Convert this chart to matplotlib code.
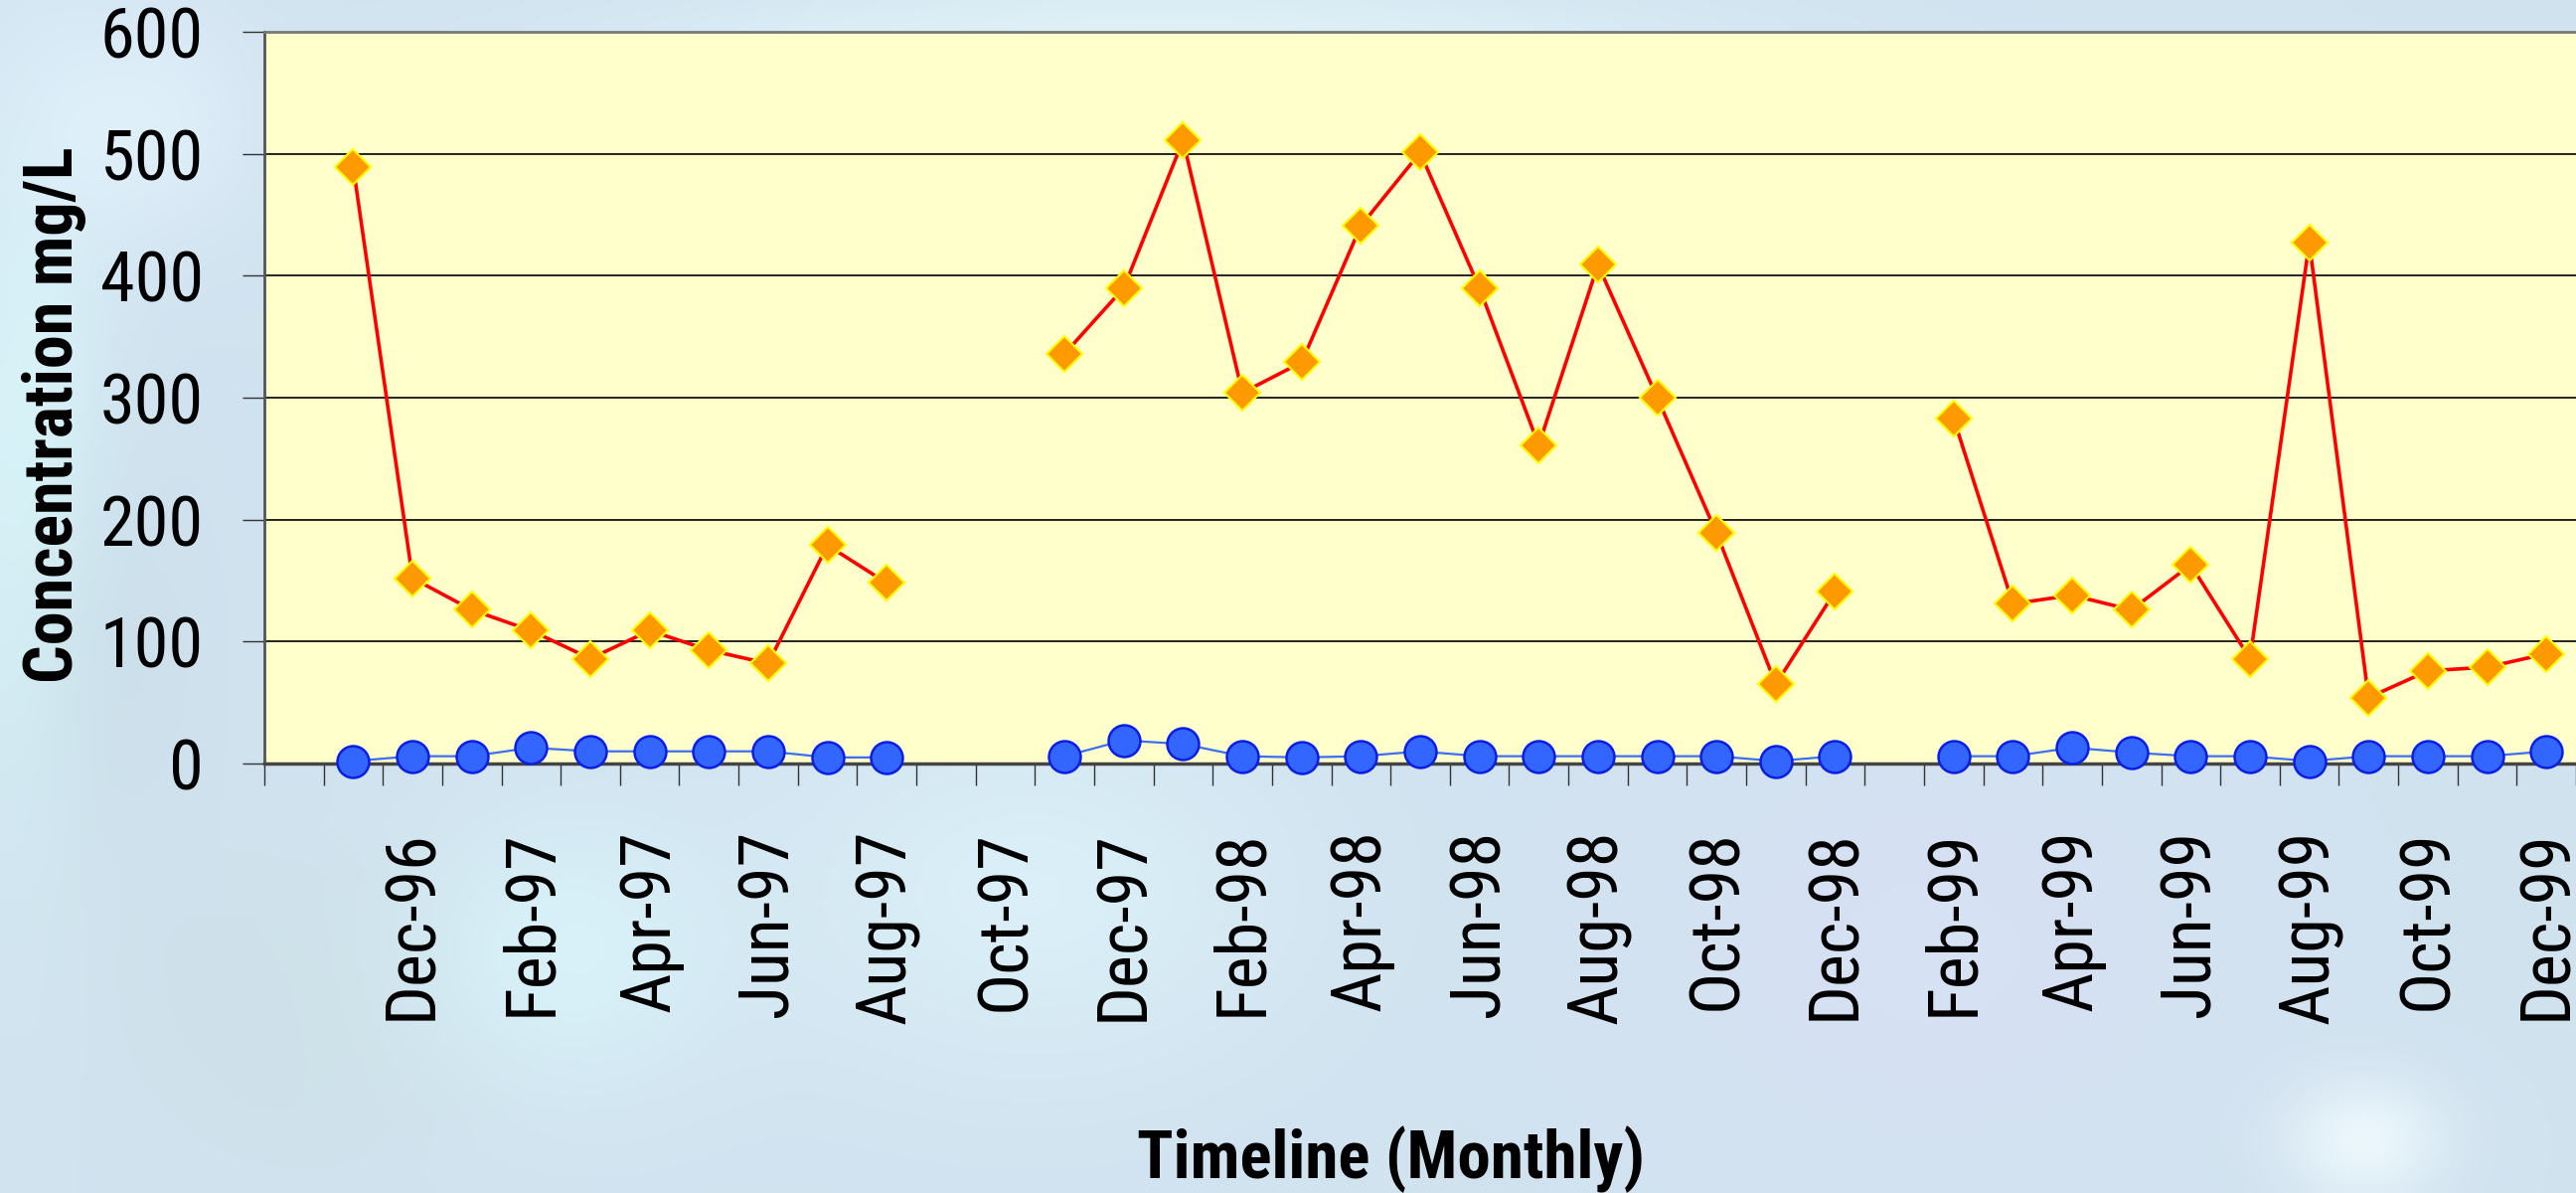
import numpy as np
import matplotlib
matplotlib.use("Agg")
import matplotlib.pyplot as plt
from matplotlib import font_manager
from matplotlib.ticker import FixedLocator, NullFormatter

# monthly categories Oct-96 .. Dec-99
months = ['Oct-96', 'Nov-96', 'Dec-96', 'Jan-97', 'Feb-97', 'Mar-97', 'Apr-97', 'May-97',
          'Jun-97', 'Jul-97', 'Aug-97', 'Sep-97', 'Oct-97', 'Nov-97', 'Dec-97', 'Jan-98',
          'Feb-98', 'Mar-98', 'Apr-98', 'May-98', 'Jun-98', 'Jul-98', 'Aug-98', 'Sep-98',
          'Oct-98', 'Nov-98', 'Dec-98', 'Jan-99', 'Feb-99', 'Mar-99', 'Apr-99', 'May-99',
          'Jun-99', 'Jul-99', 'Aug-99', 'Sep-99', 'Oct-99', 'Nov-99', 'Dec-99']
nan = np.nan
red_series = [nan, 489, 152, 126, 109, 86, 109, 93, 82, 179, 148, nan, nan, 336, 390, 511,
              304, 329, 441, 501, 390, 261, 409, 300, 189, 65, 141, nan, 283, 131, 138, 126,
              163, 86, 427, 54, 76, 79, 90]
blue_series = [nan, 2, 6, 6, 13, 10, 10, 10, 10, 5, 5, nan, nan, 6, 19, 16,
               6, 5, 6, 10, 6, 6, 6, 6, 6, 2, 6, nan, 6, 6, 13, 9,
               6, 6, 2, 6, 6, 6, 10]
yticks = [0, 100, 200, 300, 400, 500, 600]


# the original uses a narrow Arial; take a condensed face if one is installed
def pick_font():
    fl = font_manager.fontManager.ttflist
    names = {f.name for f in fl}
    for n in ['Liberation Sans Narrow', 'Arial Narrow', 'Roboto Condensed',
              'Open Sans Condensed', 'Noto Sans Condensed']:
        if n in names:
            return n, 'normal'
    for n in ['Noto Sans', 'DejaVu Sans', 'Open Sans', 'Roboto']:
        if any(f.name == n and str(f.stretch) in ('condensed', 'semi-condensed')
               for f in fl):
            return n, 'condensed'
    return 'Liberation Sans', 'normal'


fam, stretch = pick_font()
plt.rcParams['font.family'] = [fam, 'DejaVu Sans']
plt.rcParams['font.stretch'] = stretch

W, H = 2592, 1200
fig = plt.figure(figsize=(W / 100, H / 100), dpi=100)
renderer = fig.canvas.get_renderer()


def fit(s, target, weight='normal'):
    t = fig.text(0, 0, s, fontsize=100, fontweight=weight)
    w = t.get_window_extent(renderer).width
    t.remove()
    return 100 * target / w


ytick_fs = fit('600', 104)
xtick_fs = fit('Dec-96', 192)
ylab_fs = fit('Concentration mg/L', 540, 'bold')
xlab_fs = fit('Timeline (Monthly)', 511, 'bold')

# soft bluish backdrop
bg = fig.add_axes([0, 0, 1, 1], zorder=-5)
yy, xx = np.mgrid[0:1:120j, 0:1:260j]
img = np.zeros((120, 260, 3))
img[..., 0] = 0.82
img[..., 1] = 0.89
img[..., 2] = 0.94


def blob(cx, cy, sx, sy, col, amt):
    g = np.exp(-(((xx - cx) / sx) ** 2 + ((yy - cy) / sy) ** 2)) * amt
    for k in range(3):
        img[..., k] = img[..., k] * (1 - g) + col[k] * g


# yy = 0 is the bottom of the figure
blob(0.01, 0.6, 0.03, 0.3, (0.86, 0.98, 0.99), 0.8)
blob(0.05, 0.9, 0.05, 0.1, (0.90, 0.96, 1.0), 0.7)
blob(0.04, 0.45, 0.04, 0.2, (0.78, 0.86, 0.90), 0.5)
blob(0.12, 0.15, 0.08, 0.15, (0.80, 0.88, 0.90), 0.6)
blob(0.22, 0.2, 0.06, 0.12, (0.86, 0.97, 0.99), 0.7)
blob(0.4, 0.25, 0.1, 0.15, (0.88, 0.97, 0.99), 0.6)
blob(0.75, 0.2, 0.12, 0.2, (0.85, 0.88, 0.96), 0.7)
blob(0.92, 0.04, 0.03, 0.05, (0.95, 0.99, 1.0), 0.8)
blob(0.45, 0.98, 0.2, 0.03, (0.90, 0.97, 0.98), 0.7)
bg.imshow(img, aspect='auto', interpolation='bicubic', extent=[0, 1, 0, 1], origin='lower')
bg.axis('off')

ax = fig.add_axes([266 / W, (H - 768) / H, (W - 266) / W, (768 - 32) / H])
ax.set_facecolor('#ffffcc')
x = np.arange(len(months))

ax.plot(x, red_series, color='#ff0000', lw=2.6, marker='D', ms=18.5,
        mfc='#ff9900', mec='#ffff00', mew=1.5, zorder=3, clip_on=False)
ax.plot(x, blue_series, color='#3d6ef0', lw=1.6, marker='o', ms=23,
        mfc='#3366ff', mec='#0a1ee6', mew=1.8, zorder=4, clip_on=False)

ax.set_xlim(-0.5, len(months) - 0.5)
ax.set_ylim(0, 600)
ax.set_yticks(yticks)
ax.set_yticklabels([str(v) for v in yticks])
ax.yaxis.grid(True, color='black', lw=1.2)
ax.set_axisbelow(True)

# tick marks between months, labels every second month
ax.xaxis.set_major_locator(FixedLocator(np.arange(len(months) + 1) - 0.5))
ax.xaxis.set_major_formatter(NullFormatter())
lab_pos = [i for i in range(2, len(months), 2)]
ax.xaxis.set_minor_locator(FixedLocator(lab_pos))
ax.set_xticklabels([months[i] for i in lab_pos], minor=True, rotation=90)
ax.tick_params(axis='x', which='major', direction='out', length=16, width=1, color='#333333')
ax.tick_params(axis='x', which='minor', length=0, pad=48, labelsize=xtick_fs)
ax.tick_params(axis='y', direction='out', length=16, width=1, color='#333333',
               pad=28, labelsize=ytick_fs)

ax.spines['left'].set_color('#555555')
ax.spines['left'].set_linewidth(2)
ax.spines['bottom'].set_color('#444444')
ax.spines['bottom'].set_linewidth(2.5)
ax.spines['top'].set_color('#777777')
ax.spines['top'].set_linewidth(2)
ax.spines['right'].set_visible(False)

fig.text(55 / W, 1 - 417 / H, 'Concentration mg/L', rotation=90, ha='center', va='center',
         fontsize=ylab_fs, fontweight='bold')
fig.text(1400 / W, 15 / H, 'Timeline (Monthly)', ha='center', va='baseline',
         fontsize=xlab_fs, fontweight='bold')

fig.savefig('out.png', dpi=100)
